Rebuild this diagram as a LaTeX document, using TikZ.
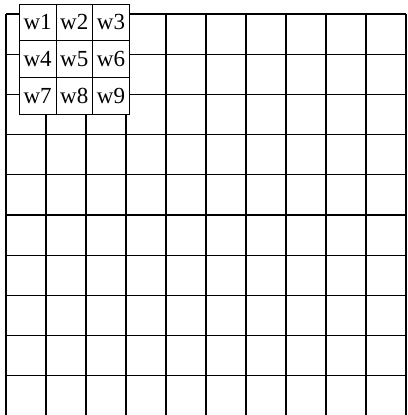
\documentclass[tikz,border=0pt]{standalone}
\usepackage{fontspec}
\setmainfont{Liberation Serif}
\begin{document}
\begin{tikzpicture}[x=1pt, y=1pt,
    cell/.style={draw, fill=white, line width=0.9pt, minimum size=36.67pt,
      inner sep=0pt, font=\fontsize{23}{23}\selectfont}]
    \useasboundingbox (0,0) rectangle (407,415);
    \clip (0,0) rectangle (407,415);
    % Input grid
    \foreach \i in {0,...,10} {
        \draw[line width=1.3pt] (6+40*\i,401) -- (6+40*\i,-2);
        \draw[line width=1.3pt] (6,401-40.2*\i) -- (406,401-40.2*\i);
    }
    % Kernel w1 ... w9
    \foreach \n in {1,...,9} {
        \pgfmathtruncatemacro\col{mod(\n-1,3)}
        \pgfmathtruncatemacro\row{(\n-1)/3}
        \node[cell] (w\n) at (37.63+36.67*\col, 392.67-36.67*\row) {w\n};
    }
\end{tikzpicture}
\end{document}
